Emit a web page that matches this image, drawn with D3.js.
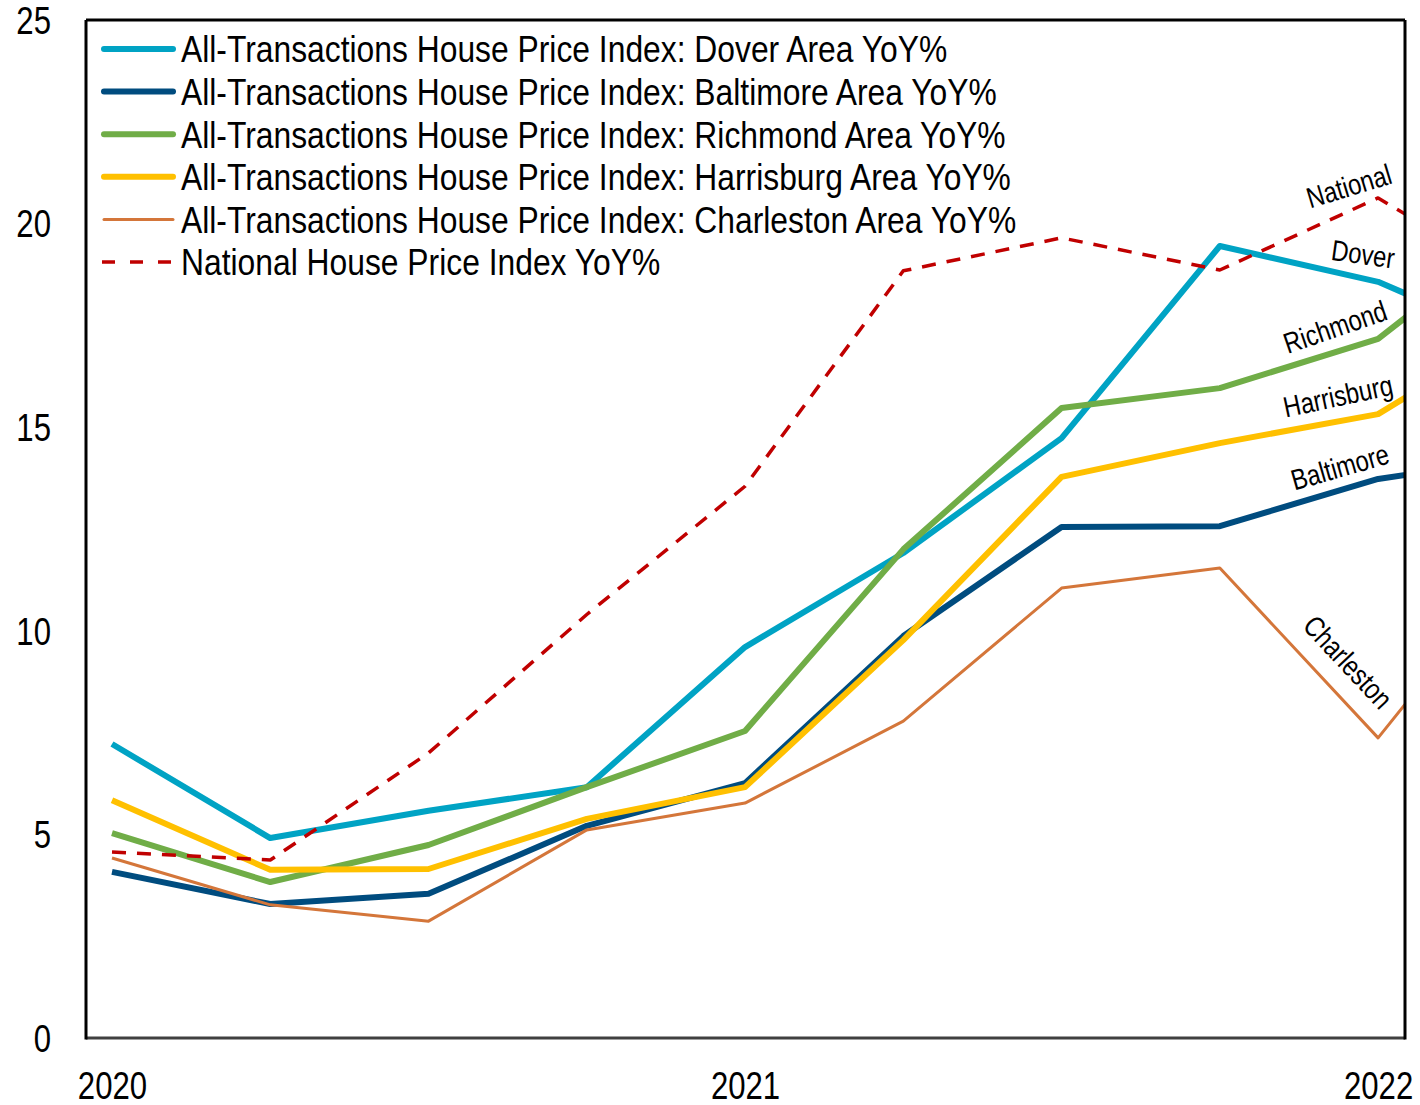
<!DOCTYPE html>
<html>
<head>
<meta charset="utf-8">
<script src="https://cdn.jsdelivr.net/npm/d3@7"></script>
<style>
  html, body { margin: 0; padding: 0; background: #fff; }
  svg { display: block; }
  text { font-family: "Liberation Sans", Arial, sans-serif; fill: #000; }
</style>
</head>
<body>
<svg id="chart" width="1420" height="1105"></svg>
<script>
// ---- data ----
const quarters = ["2020Q1","2020Q2","2020Q3","2020Q4","2021Q1","2021Q2","2021Q3","2021Q4","2022Q1","2022Q2"];
const dover      = [7.22, 4.91, 5.58, 6.16, 9.60, 11.91, 14.73, 19.45, 18.57, 16.9];
const baltimore  = [4.08, 3.29, 3.54, 5.21, 6.26, 9.87, 12.55, 12.57, 13.73, 14.3];
const richmond   = [5.03, 3.83, 4.74, 6.16, 7.54, 12.00, 15.47, 15.96, 17.17, 20.2];
const harrisburg = [5.84, 4.13, 4.15, 5.38, 6.16, 9.77, 13.78, 14.61, 15.32, 17.7];
const charleston = [4.42, 3.27, 2.87, 5.11, 5.77, 7.78, 11.05, 11.54, 7.37, 12.2];
const national   = [4.57, 4.37, 7.00, 10.40, 13.55, 18.84, 19.65, 18.86, 20.63, 18.3];
const seriesNames = [
  "All-Transactions House Price Index: Dover Area YoY%",
  "All-Transactions House Price Index: Baltimore Area YoY%",
  "All-Transactions House Price Index: Richmond Area YoY%",
  "All-Transactions House Price Index: Harrisburg Area YoY%",
  "All-Transactions House Price Index: Charleston Area YoY%",
  "National House Price Index YoY%"
];
const shortLabels = ["Dover","Baltimore","Richmond","Harrisburg","Charleston","National"];
const yTicks = [0, 5, 10, 15, 20, 25];
const xTickIdx = [0, 4, 8];
const xTickLabels = ["2020", "2021", "2022"];

// ---- styles ----
const NARROW = 0.82;     // horizontal condensing to mimic a narrow face
const NARROW_LEG = 0.86;
const styles = [
  {color: "#00A3C4", width: 6, dash: null},
  {color: "#004C7F", width: 6, dash: null},
  {color: "#70AD47", width: 6, dash: null},
  {color: "#FFC000", width: 6, dash: null},
  {color: "#D4763A", width: 3, dash: null},
  {color: "#C00000", width: 3.5, dash: "14,11"}
];
const allSeries = [dover, baltimore, richmond, harrisburg, charleston, national];

const svg = d3.select("#chart");
const L = 86, R = 1405, T = 20, B = 1038;

const x = d3.scaleLinear().domain([-0.1643, 8.17]).range([L, R]);
const y = d3.scaleLinear().domain([0, 25]).range([B, T]);

svg.append("defs").append("clipPath").attr("id", "clip")
  .append("rect").attr("x", L).attr("y", T).attr("width", R - L).attr("height", B - T);

// axes
const yAxis = d3.axisLeft(y).tickValues(yTicks).tickSize(0).tickPadding(34).tickFormat(d3.format("d"));
const gy = svg.append("g").attr("transform", `translate(${L},0)`).call(yAxis);
gy.select(".domain").remove();
gy.selectAll("text")
  .style("font-size", "38px")
  .attr("x", -35 / NARROW)
  .attr("dy", "0.35em")
  .attr("transform", `scale(${NARROW},1)`);

const xAxis = d3.axisBottom(x).tickValues(xTickIdx).tickSize(0).tickPadding(0)
  .tickFormat((d, i) => xTickLabels[i]);
const gx = svg.append("g").attr("transform", `translate(0,${B})`).call(xAxis);
gx.select(".domain").remove();
gx.selectAll("text")
  .style("font-size", "38px")
  .attr("y", 48)
  .attr("dy", "0.35em")
  .attr("transform", `scale(${NARROW},1)`);

// lines
const line = d3.line().x((d, i) => x(i)).y(d => y(d));
const plot = svg.append("g").attr("clip-path", "url(#clip)");
allSeries.forEach((s, k) => {
  plot.append("path").datum(s)
    .attr("d", line)
    .attr("fill", "none")
    .attr("stroke", styles[k].color)
    .attr("stroke-width", styles[k].width)
    .attr("stroke-linejoin", "round")
    .attr("stroke-dasharray", styles[k].dash);
});

// frame
svg.append("line").attr("x1", L).attr("x2", R).attr("y1", B).attr("y2", B)
  .attr("stroke", "#404040").attr("stroke-width", 3);
svg.append("line").attr("x1", L).attr("x2", L).attr("y1", T).attr("y2", B + 1.5)
  .attr("stroke", "#000").attr("stroke-width", 3);
svg.append("line").attr("x1", L).attr("x2", R).attr("y1", T).attr("y2", T)
  .attr("stroke", "#000").attr("stroke-width", 3);
svg.append("line").attr("x1", R).attr("x2", R).attr("y1", T).attr("y2", B + 1.5)
  .attr("stroke", "#000").attr("stroke-width", 3);

// legend
const lg = svg.append("g");
seriesNames.forEach((name, k) => {
  const yy = 49 + k * 42.6;
  lg.append("line").attr("x1", 104).attr("x2", 173).attr("y1", yy).attr("y2", yy)
    .attr("stroke", styles[k].color).attr("stroke-width", styles[k].width)
    .attr("stroke-linecap", styles[k].dash ? "butt" : "round")
    .attr("stroke-dasharray", styles[k].dash ? "13,15" : null)
    .attr("transform", styles[k].dash ? "translate(-2,0)" : null);
  lg.append("text")
    .attr("transform", `translate(181,${yy}) scale(${NARROW_LEG},1)`)
    .attr("dy", "0.36em")
    .style("font-size", "37px").text(name);
});

// right-side labels
const labelPos = [
  {k: 0, cx: 1363, cy: 254, a: 8},
  {k: 1, cx: 1340, cy: 467, a: -16},
  {k: 2, cx: 1335, cy: 327, a: -19},
  {k: 3, cx: 1338, cy: 396, a: -12},
  {k: 4, cx: 1348, cy: 662, a: 47},
  {k: 5, cx: 1349, cy: 186, a: -17}
];
labelPos.forEach(p => {
  svg.append("text")
    .attr("transform", `translate(${p.cx},${p.cy}) rotate(${p.a}) scale(${NARROW},1)`)
    .attr("text-anchor", "middle").attr("dy", "0.35em")
    .style("font-size", "29px")
    .text(shortLabels[p.k]);
});
</script>
</body>
</html>
